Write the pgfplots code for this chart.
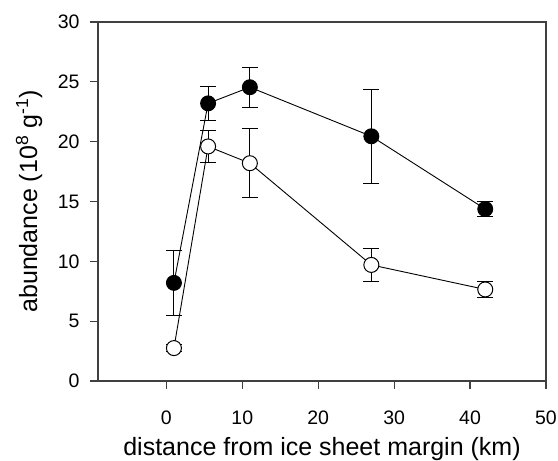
\documentclass[border=0pt]{standalone}
\usepackage{pgfplots}
\pgfplotsset{compat=1.18}
\usepackage{fontspec}
\setmainfont{Liberation Sans}
\begin{document}
\begin{tikzpicture}
\begin{axis}[
 scale only axis, width=448pt, height=359pt,
 xmin=-9, xmax=50, ymin=0, ymax=30,
 xtick={0,10,...,50}, ytick={0,5,...,30},
 tick align=outside, major tick length=8pt,
 xtick pos=bottom, ytick pos=left,
 axis line style={black!75, line width=1.2pt},
 tick style={black!75, line width=1.2pt},
 ticklabel style={font=\fontsize{19.5}{22}\selectfont},
 xticklabel style={anchor=center, yshift=-29pt},
 yticklabel style={anchor=east, xshift=-7pt},
 label style={font=\fontsize{25}{30}\selectfont},
 xlabel={distance from ice sheet margin (km)},
 ylabel={abundance (10\textsuperscript{8} g\textsuperscript{-1})},
 xlabel style={at={(axis description cs:0.5,-0.2075)}, anchor=base},
 ylabel style={at={(axis description cs:-0.154,0.5)}, anchor=center},
 /pgf/number format/assume math mode=true,
 clip=false,
]
\addplot[black, line width=0.9pt, mark=*, mark size=7.5pt, mark options={fill=black, solid},
  error bars/.cd, y dir=both, y explicit,
  error bar style={line width=0.9pt, black},
  error mark options={rotate=90, mark size=8pt, line width=0.9pt, black}]
 coordinates {
 (1,8.2) +- (0,2.7)
 (5.5,23.2) +- (0,1.4)
 (11,24.55) +- (0,1.65)
 (27,20.45) +- (0,3.93)
 (42,14.37) +- (0,0.65)
 };
\addplot[black, line width=0.9pt, mark=*, mark size=7.5pt, mark options={fill=white, draw=black, line width=1pt, solid},
  error bars/.cd, y dir=both, y explicit,
  error bar style={line width=0.9pt, black},
  error mark options={rotate=90, mark size=8pt, line width=0.9pt, black}]
 coordinates {
 (1,2.75) +- (0,0.3)
 (5.5,19.6) +- (0,1.35)
 (11,18.2) +- (0,2.9)
 (27,9.7) +- (0,1.4)
 (42,7.65) +- (0,0.67)
 };
\end{axis}
\pgfresetboundingbox
\path[use as bounding box] (-98pt,-80pt) rectangle (460pt,381pt);
\end{tikzpicture}
\end{document}
